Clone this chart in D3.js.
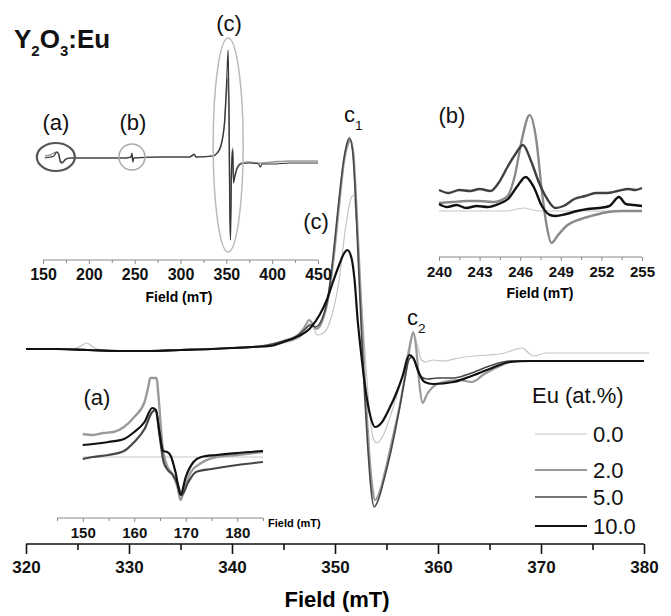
<!DOCTYPE html>
<html>
<head>
<meta charset="utf-8">
<script src="https://cdn.jsdelivr.net/npm/d3@7"></script>
<style>
  body { margin: 0; background: #fff; }
  text { font-family: "Liberation Sans", Arial, sans-serif; }
</style>
</head>
<body>
<svg id="chart" width="671" height="616"></svg>
<script>
// series labels (Eu concentration, at.%)
const concentrations = ['0.0', '2.0', '5.0', '10.0'];

// main spectrum, [field mT, intensity a.u.]
const main00 = [[320,1],[324.5,1],[325.3,4],[325.9,7],[326.5,3],[327.2,0],[330,-1],[335,0],[340,2],[343,4],[345,7],[346.5,12],[347.1,20],[347.6,27],[348.3,15],[349,18],[349.7,35],[350.4,70],[351,120],[351.5,150],[351.8,155],[352.1,125],[352.5,60],[352.9,0],[353.3,-55],[353.7,-88],[354.1,-93],[354.7,-85],[355.5,-62],[356.3,-35],[357,-5],[357.6,18],[358,5],[358.4,-10],[358.8,-12],[359.5,-10],[360.5,-11],[362,-8],[363.5,-6],[365,-5],[366.5,-3],[367.6,1],[368.2,2],[368.8,-3],[369.3,-6],[370.5,-3],[372,-3],[376,-3],[380.5,-3]];
const main20 = [[320,1],[323,1],[326,0],[329,-1],[332,-1],[335,0],[338,1],[340,2],[342,3],[343.5,5],[345,9],[346.4,15],[347,22],[347.5,30],[348.2,21],[348.8,30],[349.4,55],[349.9,95],[350.4,145],[350.9,190],[351.3,207],[351.5,210],[351.8,195],[352.1,140],[352.4,75],[352.7,10],[353,-50],[353.3,-100],[353.6,-135],[353.9,-150],[354.3,-143],[354.9,-120],[355.6,-88],[356.3,-55],[356.9,-20],[357.3,5],[357.6,18],[357.9,0],[358.2,-35],[358.5,-53],[358.9,-45],[359.4,-38],[360.5,-32],[362,-30],[363.3,-32],[364.5,-24],[366,-16],[367.5,-11],[370,-11],[375,-11],[380,-11]];
const main50 = [[320,1],[323,1],[326,0],[329,-1],[332,-1],[335,0],[338,1],[340,2],[342,3],[343.5,5],[345,9],[346.3,14],[347,20],[347.6,25],[348.1,23],[348.7,30],[349.3,52],[349.8,92],[350.3,142],[350.8,187],[351.2,208],[351.4,212],[351.7,200],[352,150],[352.3,80],[352.6,10],[352.9,-50],[353.2,-100],[353.5,-140],[353.8,-157],[354.2,-150],[354.8,-128],[355.5,-98],[356.2,-62],[356.8,-28],[357.2,-9],[357.5,-7],[357.9,-15],[358.4,-27],[359,-29],[360,-28],[361.5,-28],[363,-24],[365,-16],[367,-11],[370,-11],[375,-11],[380,-11]];
const main100 = [[320,1],[323,1],[326,0],[329,-1],[332,-1],[335,0],[338,1],[340,2],[342,3],[343.7,4],[345,8],[346.3,13],[347.6,22],[348.5,35],[349.2,50],[349.8,68],[350.4,85],[350.9,97],[351.2,100],[351.6,92],[351.9,70],[352.2,30],[352.5,0],[352.9,-35],[353.3,-60],[353.9,-77],[354.5,-73],[355.3,-58],[356,-42],[356.6,-25],[357.2,-5],[357.6,-8],[358.1,-22],[358.7,-32],[359.5,-34],[361.5,-32],[363,-27],[365,-19],[367,-12],[369,-11],[372,-11],[376,-11],[380,-11]];

// survey inset (150-450 mT)
const surveyGray = [[152,2],[158,3],[162,5],[165,6],[167,4],[169,-3],[171,-4],[175,-1],[180,0],[200,0],[240,0],[246,1],[247,4],[248,-3],[249,0],[280,1],[310,1],[315,3],[317,1],[335,2],[340,5],[344,12],[348,35],[350.5,70],[352,80],[353,30],[353.8,-40],[354.6,-60],[355.5,-15],[356.5,5],[357,10],[357.8,-22],[359,-18],[362,-9],[366,-5],[375,-4],[385,-5],[400,-4],[420,-3],[450,-3]];
const surveyDark = [[152,0],[158,1],[162,2],[165,6],[167,4],[169,-4],[171,-5],[175,-1],[180,0],[200,0],[240,0],[246,1],[247,5],[248,-4],[249,0],[280,1],[310,1],[315,4],[317,1],[335,2],[340,5],[344,12],[348,35],[350.5,80],[352,108],[353,40],[353.8,-60],[354.6,-82],[355.5,-20],[356.5,5],[357,8],[357.8,-25],[359,-20],[362,-10],[366,-6],[375,-5],[385,-6],[387,-9],[389,-6],[400,-6],[420,-5],[450,-5]];

// inset (a), 145-185 mT
const insetA00 = [[150,0],[185,0]];
const insetA20 = [[150,23],[152,22],[154,24],[156,25],[158,30],[160,40],[162,55],[162.8,72],[163.1,79],[164.3,79],[164.8,55],[165.4,15],[166.3,-8],[167.4,-17],[168.4,-30],[169,-43],[169.8,-30],[171,-15],[173,-6],[176,0],[180,2],[185,5]];
const insetA50 = [[150,-2],[152,0],[155,2],[158,6],[160,15],[162,28],[163.5,45],[164.2,47],[164.9,22],[165.7,-5],[166.5,-13],[167.5,-18],[168.5,-28],[169.2,-38],[170.5,-25],[172,-15],[175,-12],[180,-8],[185,-5]];
const insetA100 = [[150,12],[152,13],[155,15],[158,18],[160,25],[162,35],[163.5,49],[164.2,47],[164.9,25],[165.6,6],[166.4,5],[167.1,1],[168,-15],[169,-38],[170,-20],[171.5,-5],[173,0],[176,2],[180,4],[185,6]];

// inset (b), 240-255 mT
const insetB00 = [[240,0],[245,0],[245.8,2],[246.3,3],[246.9,1],[247.5,0],[255,0]];
const insetB20 = [[240,8],[241,9],[242,10],[243,10],[244,9],[245,14],[245.6,35],[246.1,70],[246.7,96],[247.2,70],[247.6,20],[248,-18],[248.3,-32],[248.8,-24],[249.5,-14],[250.5,-8],[251.5,-4],[252.5,-1],[253.5,0],[255,0]];
const insetB50 = [[240,21],[240.7,18],[241.5,21],[242.3,20],[243,22],[243.8,20],[244.4,28],[245.1,45],[245.7,58],[246.2,66],[246.8,50],[247.4,28],[248,12],[248.6,3],[249.2,5],[250,12],[250.8,15],[251.6,18],[252.4,18],[253.2,20],[254,22],[254.5,21],[255,23]];
const insetB100 = [[240,7],[240.6,4],[241.3,6],[242,3],[242.8,5],[243.6,4],[244.4,7],[245.1,12],[245.8,25],[246.4,34],[247,24],[247.6,5],[248.2,-4],[248.6,-5],[249.4,-3],[250.2,0],[251,2],[251.8,3],[252.6,5],[253.3,14],[253.8,7],[254.4,6],[255,5]];

const mainTicks = [320, 330, 340, 350, 360, 370, 380];
const surveyTicks = [150, 200, 250, 300, 350, 400, 450];
const aTicks = [150, 160, 170, 180];
const bTicks = [240, 243, 246, 249, 252, 255];

const styles = [
  {color: '#c4c4c4', width: 1.2},
  {color: '#9a9a9a', width: 2.2},
  {color: '#474747', width: 1.6},
  {color: '#111111', width: 2.2}
];

const svg = d3.select('#chart');
const font = '"Liberation Sans", Arial, sans-serif';

function drawLines(g, x, y, sets) {
  const line = d3.line()
    .x(d => x(d[0]))
    .y(d => y(d[1]))
    .curve(d3.curveMonotoneX);
  sets.forEach(s => {
    g.append('path')
      .datum(s.data)
      .attr('fill', 'none')
      .attr('stroke', s.style.color)
      .attr('stroke-width', s.style.width)
      .attr('stroke-linejoin', 'round')
      .attr('d', line);
  });
}

function drawAxis(x, yPos, ticks, minorStep, opts) {
  const g = svg.append('g').attr('transform', `translate(0,${yPos})`);
  const d = x.domain();
  const minor = d3.range(d[0], d[1] + 1e-6, minorStep).filter(v => !ticks.includes(+v.toFixed(3)));
  g.append('g')
    .call(d3.axisBottom(x).tickValues(minor).tickSize(opts.minor).tickSizeOuter(0).tickFormat(''))
    .call(a => a.select('.domain').remove());
  const major = g.append('g')
    .call(d3.axisBottom(x).tickValues(ticks).tickSize(opts.major).tickSizeOuter(0).tickPadding(opts.pad));
  g.selectAll('line').attr('stroke', opts.color).attr('stroke-width', opts.width);
  major.select('.domain').attr('stroke', opts.color).attr('stroke-width', opts.width)
    .attr('d', `M${x.range()[0]},0H${x.range()[1]}`);
  major.selectAll('text')
    .attr('font-family', font)
    .attr('font-weight', 'bold')
    .attr('font-size', opts.fontSize)
    .attr('fill', '#111');
  return g;
}

// ---------- main spectrum ----------
const x = d3.scaleLinear().domain([320, 380]).range([26, 644]);
const y = d3.scaleLinear().domain([-160, 220]).range([510, 130]);

drawLines(svg.append('g'), x, y, [
  {data: main00, style: styles[0]},
  {data: main20, style: styles[1]},
  {data: main50, style: styles[2]},
  {data: main100, style: styles[3]}
]);

drawAxis(x, 544, mainTicks, 5, {major: 10, minor: 6, pad: 7, color: '#111', width: 1.6, fontSize: 17});
svg.append('text')
  .attr('x', (x(320) + x(380)) / 2 + 2).attr('y', 607)
  .attr('text-anchor', 'middle')
  .attr('font-weight', 'bold').attr('font-size', 22)
  .text('Field (mT)');

// peak labels
function subLabel(px, py, main, sub, size) {
  const t = svg.append('text').attr('x', px).attr('y', py).attr('font-size', size).attr('fill', '#111');
  t.append('tspan').text(main);
  t.append('tspan').attr('dy', size * 0.35).attr('font-size', size * 0.62).text(sub);
}
subLabel(344, 122, 'c', '1', 22);
subLabel(407, 325, 'c', '2', 22);
svg.append('text').attr('x', 316).attr('y', 229).attr('text-anchor', 'middle')
  .attr('font-size', 22).attr('fill', '#111').text('(c)');

// legend
const legend = svg.append('g');
legend.append('text').attr('x', 532).attr('y', 403).attr('font-size', 22).attr('fill', '#111').text('Eu (at.%)');
const legendY = [434, 470, 497, 526];
concentrations.forEach((c, i) => {
  legend.append('line')
    .attr('x1', 535).attr('x2', 587).attr('y1', legendY[i]).attr('y2', legendY[i])
    .attr('stroke', styles[i].color).attr('stroke-width', styles[i].width);
  legend.append('text')
    .attr('x', 593).attr('y', legendY[i] + 8)
    .attr('font-size', 22).attr('fill', '#111').text(c);
});

// ---------- survey inset ----------
const xs = d3.scaleLinear().domain([150, 450]).range([43, 318]);
const ys = d3.scaleLinear().domain([-100, 120]).range([258, 38]);
drawLines(svg.append('g'), xs, ys, [
  {data: surveyGray, style: {color: '#9a9a9a', width: 1.6}},
  {data: surveyDark, style: {color: '#333', width: 1.2}}
]);
drawAxis(xs, 260, surveyTicks, 25, {major: 4, minor: 3, pad: 5, color: '#888', width: 1, fontSize: 16});
svg.append('text').attr('x', 179).attr('y', 302).attr('text-anchor', 'middle')
  .attr('font-weight', 'bold').attr('font-size', 14).text('Field (mT)');

// highlighted regions
svg.append('ellipse').attr('cx', xs(164)).attr('cy', ys(1)).attr('rx', 19).attr('ry', 14)
  .attr('fill', 'none').attr('stroke', '#555').attr('stroke-width', 2.2);
svg.append('ellipse').attr('cx', xs(247)).attr('cy', ys(1)).attr('rx', 13).attr('ry', 13)
  .attr('fill', 'none').attr('stroke', '#aaa').attr('stroke-width', 1.5);
svg.append('ellipse').attr('cx', xs(352)).attr('cy', ys(13)).attr('rx', 15).attr('ry', 107)
  .attr('fill', 'none').attr('stroke', '#bbb').attr('stroke-width', 1.5);
[['(a)', 56, 130], ['(b)', 133, 130], ['(c)', 229, 31]].forEach(l => {
  svg.append('text').attr('x', l[1]).attr('y', l[2]).attr('text-anchor', 'middle')
    .attr('font-size', 22).attr('fill', '#111').text(l[0]);
});

// title
const title = svg.append('text').attr('x', 14).attr('y', 48)
  .attr('font-weight', 'bold').attr('font-size', 26).attr('fill', '#111');
title.append('tspan').text('Y');
title.append('tspan').attr('dy', 8).attr('font-size', 15).text('2');
title.append('tspan').attr('dy', -8).text('O');
title.append('tspan').attr('dy', 8).attr('font-size', 15).text('3');
title.append('tspan').attr('dy', -8).text(':Eu');

// ---------- inset (a) ----------
const xa = d3.scaleLinear().domain([145, 185]).range([57, 263]);
const ya = d3.scaleLinear().domain([-50, 90]).range([507, 367]);
drawLines(svg.append('g'), xa, ya, [
  {data: insetA00, style: {color: '#c4c4c4', width: 1}},
  {data: insetA20, style: {color: '#9a9a9a', width: 2.4}},
  {data: insetA50, style: {color: '#474747', width: 2.2}},
  {data: insetA100, style: {color: '#111', width: 2.2}}
]);
drawAxis(xa, 518, aTicks, 5, {major: 4, minor: 3, pad: 5, color: '#888', width: 1, fontSize: 15});
svg.append('text').attr('x', 268).attr('y', 527)
  .attr('font-weight', 'bold').attr('font-size', 11).text('Field (mT)');
svg.append('text').attr('x', 97).attr('y', 405).attr('text-anchor', 'middle')
  .attr('font-size', 22).attr('fill', '#111').text('(a)');

// ---------- inset (b) ----------
const xb = d3.scaleLinear().domain([240, 255]).range([439, 642]);
const yb = d3.scaleLinear().domain([-40, 100]).range([251, 111]);
drawLines(svg.append('g'), xb, yb, [
  {data: insetB00, style: {color: '#c4c4c4', width: 1}},
  {data: insetB20, style: {color: '#8a8a8a', width: 2.4}},
  {data: insetB50, style: {color: '#404040', width: 2.4}},
  {data: insetB100, style: {color: '#111', width: 2.4}}
]);
drawAxis(xb, 257, bTicks, 1.5, {major: 4, minor: 3, pad: 5, color: '#888', width: 1, fontSize: 15});
svg.append('text').attr('x', 540).attr('y', 298).attr('text-anchor', 'middle')
  .attr('font-weight', 'bold').attr('font-size', 14).text('Field (mT)');
svg.append('text').attr('x', 452).attr('y', 123).attr('text-anchor', 'middle')
  .attr('font-size', 22).attr('fill', '#111').text('(b)');
</script>
</body>
</html>
